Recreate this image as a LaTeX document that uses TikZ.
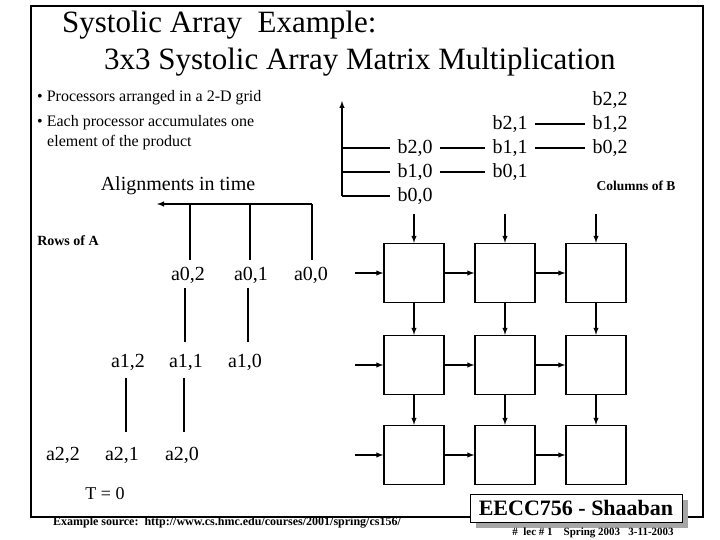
\documentclass[tikz,border=0pt]{standalone}
\usepackage{fontspec}
\setmainfont{Liberation Serif}
\begin{document}
\begin{tikzpicture}[x=1pt,y=-1pt,
  lbl/.style={inner sep=0pt,font=\fontsize{20}{22}\selectfont},
  pe/.style={draw,line width=1.4pt,minimum width=60pt,minimum height=59pt,inner sep=0pt},
  ln/.style={line width=1.4pt},
  arr/.style={line width=1.4pt,-latex},
  sm/.style={inner sep=0pt,font=\bfseries\fontsize{12}{14}\selectfont}]
\useasboundingbox (0,0) rectangle (720,540);
\fill[white] (0,0) rectangle (720,540);
% frame
\draw[line width=2.5pt] (31,480) -- (31,6) -- (703,6) -- (703,517) -- (682,517);
\draw[line width=2.5pt] (31,478) -- (31,517) -- (470,517);
% title
\node[anchor=west,inner sep=0pt,font=\fontsize{31}{33}\selectfont] (t1) at (62,25) {Systolic Array\ \ Example:};
\node[anchor=west,inner sep=0pt,font=\fontsize{31}{33}\selectfont] (t2) at (104,62) {3x3 Systolic Array Matrix Multiplication};
\node[anchor=west,inner sep=0pt,font=\fontsize{16}{18}\selectfont] (p1) at (37,98) {\textbullet\ Processors arranged in a 2-D grid};
\node[anchor=west,inner sep=0pt,font=\fontsize{16}{18}\selectfont] (p2) at (37,123) {\textbullet\ Each processor accumulates one};
\node[anchor=west,inner sep=0pt,font=\fontsize{16}{18}\selectfont] (p3) at (47,143) {element of the product};
% B side
\node[lbl] (b20) at (415,148) {b2,0};
\node[lbl] (b10) at (415,172) {b1,0};
\node[lbl] (b00) at (415,196) {b0,0};
\node[lbl] (b21) at (510,124) {b2,1};
\node[lbl] (b11) at (510,148) {b1,1};
\node[lbl] (b01) at (510,172) {b0,1};
\node[lbl] (b22) at (610,100) {b2,2};
\node[lbl] (b12) at (610,124) {b1,2};
\node[lbl] (b02) at (610,148) {b0,2};
\draw[ln] ([xshift=7pt]b20.east) -- ([xshift=-7pt]b11.west);
\draw[ln] ([xshift=7pt]b10.east) -- ([xshift=-7pt]b01.west);
\draw[ln] ([xshift=7pt]b21.east) -- ([xshift=-7pt]b12.west);
\draw[ln] ([xshift=7pt]b11.east) -- ([xshift=-7pt]b02.west);
\coordinate (ab) at (342,196);
\coordinate (at) at (342,101);
\draw[line width=1.4pt,-latex] (ab) -- (at);
\draw[ln] (ab) -- ([xshift=-7pt]b00.west);
\draw[ln] (342,172) -- ([xshift=-7pt]b10.west);
\draw[ln] (342,148) -- ([xshift=-7pt]b20.west);
\node[sm,font=\bfseries\fontsize{13.5}{15}\selectfont] (colB) at (636,186) {Columns of B};
% grid
\foreach \r/\y in {0/273,1/365,2/455}{
  \foreach \c/\x in {0/414,1/505,2/596}{
    \node[pe] (pe\r\c) at (\x,\y) {};
  }
}
\foreach \c/\x in {0/414,1/505,2/596}{
  \coordinate (top\c) at (\x,214);
  \draw[arr] (top\c) -- (pe0\c.north);
  \draw[arr] (pe0\c.south) -- (pe1\c.north);
  \draw[arr] (pe1\c.south) -- (pe2\c.north);
}
\foreach \r/\y in {0/273,1/365,2/455}{
  \coordinate (in\r) at (355,\y);
  \draw[arr] (in\r) -- (pe\r0.west);
  \draw[arr] (pe\r0.east) -- (pe\r1.west);
  \draw[arr] (pe\r1.east) -- (pe\r2.west);
}
% A side
\node[lbl] (align) at (178,186) {Alignments in time};
\node[sm,font=\bfseries\fontsize{14}{15}\selectfont] (rowA) at (68,241) {Rows of A};
\node[lbl] (a02) at (188,275) {a0,2};
\node[lbl] (a01) at (251,275) {a0,1};
\node[lbl] (a00) at (311,275) {a0,0};
\node[lbl] (a12) at (128,362) {a1,2};
\node[lbl] (a11) at (186,362) {a1,1};
\node[lbl] (a10) at (245,362) {a1,0};
\node[lbl] (a22) at (63,455) {a2,2};
\node[lbl] (a21) at (122,455) {a2,1};
\node[lbl] (a20) at (182,455) {a2,0};
\coordinate (h0) at (312,204);
\coordinate (h1) at (157,204);
\draw[arr] (h0) -- (h1);
\draw[ln] (190,204) -- (190,260);
\draw[ln] (250,204) -- (250,260);
\draw[ln] (312,204) -- (312,260);
\draw[ln] (185,288) -- (185,342);
\draw[ln] (248,288) -- (248,342);
\draw[ln] (126,378) -- (126,432);
\draw[ln] (184,378) -- (184,432);
\node[lbl,font=\fontsize{18}{20}\selectfont] (T0) at (105,494) {T = 0};
\node[sm] (src) at (227,523) {Example source:\ \ http://www.cs.hmc.edu/courses/2001/spring/cs156/};
% footer box
\fill[gray!70] (476,500) rectangle (688,528);
\node[draw,fill=white,line width=1pt,minimum width=212pt,minimum height=28pt,inner sep=0pt,
  font=\bfseries\fontsize{22}{24}\selectfont] (ee) at (576,508) {EECC756 - Shaaban};
\node[inner sep=0pt,font=\bfseries\fontsize{11}{12}\selectfont] (lec) at (593,533) {\#\ \ lec \# 1\ \ \ \ Spring 2003\ \ \ 3-11-2003};
\end{tikzpicture}
\end{document}
